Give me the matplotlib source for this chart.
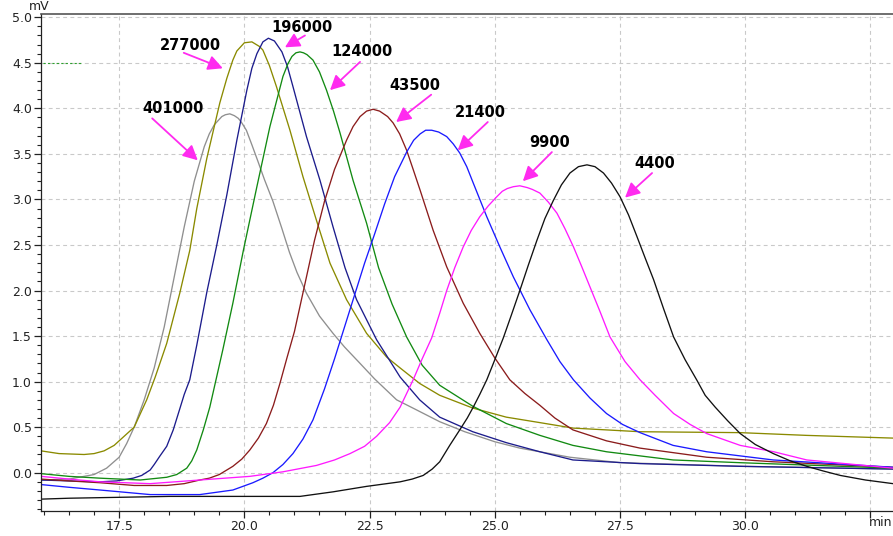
import matplotlib.pyplot as plt
from matplotlib.ticker import MultipleLocator, FormatStrFormatter

# GPC traces (retention time in min, detector signal in mV), one per standard
mw_labels = ["401000", "277000", "196000", "124000", "43500", "21400", "9900", "4400"]
colors = ["#8f8f8f", "#8a8a00", "#1c1c8c", "#128a12", "#8b1c1c", "#1a1aff", "#ff1aff", "#111111"]

t_401000 = [15.94, 16.5, 17.0, 17.25, 17.5, 17.65, 17.8, 18.0, 18.2, 18.4, 18.6, 18.8, 19.0, 19.2,
            19.3, 19.4, 19.55, 19.62, 19.71, 19.8, 19.88, 19.95, 20.04, 20.15, 20.27, 20.4, 20.57,
            20.75, 20.9, 21.05, 21.24, 21.5, 21.77, 22.0, 22.31, 22.6, 23.04, 23.4, 23.9, 24.4,
            25.0, 25.5, 26.0, 26.5, 27.5, 30.0, 32.0, 32.95]
s_401000 = [-0.08, -0.07, -0.02, 0.05, 0.17, 0.32, 0.50, 0.80, 1.15, 1.60, 2.15, 2.70, 3.20, 3.58,
            3.72, 3.82, 3.91, 3.93, 3.94, 3.92, 3.89, 3.84, 3.76, 3.60, 3.42, 3.22, 2.98,
            2.68, 2.42, 2.20, 1.97, 1.72, 1.53, 1.38, 1.20, 1.03, 0.80, 0.70, 0.56, 0.45,
            0.34, 0.27, 0.22, 0.17, 0.11, 0.07, 0.05, 0.04]

t_277000 = [15.94, 16.3, 16.8, 17.0, 17.2, 17.4, 17.52, 17.8, 18.05, 18.22, 18.45, 18.71, 18.91,
            19.05, 19.25, 19.51, 19.65, 19.77, 19.85, 20.0, 20.15, 20.3, 20.37, 20.5, 20.64, 20.91,
            21.17, 21.44, 21.71, 22.04, 22.44, 22.84, 23.11, 23.5, 23.9, 24.56, 25.23, 25.9, 26.56,
            27.9, 29.9, 31.22, 32.95]
s_277000 = [0.24, 0.21, 0.20, 0.21, 0.24, 0.30, 0.36, 0.50, 0.80, 1.05, 1.42, 1.97, 2.44,
            2.90, 3.45, 4.06, 4.33, 4.53, 4.63, 4.72, 4.73, 4.68, 4.64, 4.47, 4.24, 3.76,
            3.25, 2.77, 2.30, 1.90, 1.53, 1.27, 1.15, 0.98, 0.85, 0.71, 0.61, 0.55, 0.49,
            0.45, 0.44, 0.41, 0.38]

t_196000 = [15.94, 16.5, 17.12, 17.45, 17.78, 17.95, 18.12, 18.2, 18.31, 18.45, 18.58, 18.71, 18.8,
            18.91, 19.05, 19.25, 19.45, 19.65, 19.85, 20.05, 20.15, 20.25, 20.37, 20.48, 20.6,
            20.75, 20.86, 20.97, 21.24, 21.51, 21.77, 22.01, 22.24, 22.64, 23.11, 23.5, 23.9,
            24.56, 25.23, 25.9, 26.56, 27.9, 29.9, 32.95]
s_196000 = [-0.08, -0.09, -0.10, -0.09, -0.06, -0.03, 0.03, 0.09, 0.18, 0.29, 0.47, 0.70, 0.86,
            1.02, 1.40, 1.98, 2.50, 3.05, 3.65, 4.20, 4.44, 4.60, 4.73, 4.77, 4.74,
            4.62, 4.46, 4.24, 3.69, 3.21, 2.70, 2.25, 1.90, 1.46, 1.05, 0.80, 0.61,
            0.45, 0.33, 0.23, 0.14, 0.10, 0.07, 0.04]

t_124000 = [15.94, 16.5, 17.12, 17.92, 18.45, 18.65, 18.85, 18.95, 19.05, 19.18, 19.31, 19.57,
            19.77, 19.98, 20.25, 20.51, 20.77, 20.87, 20.95, 21.03, 21.11, 21.18, 21.25, 21.37,
            21.5, 21.64, 21.78, 21.91, 22.17, 22.44, 22.68, 22.95, 23.24, 23.55, 23.9, 24.56,
            25.23, 25.9, 26.56, 27.23, 28.56, 29.9, 32.95]
s_124000 = [-0.01, -0.04, -0.06, -0.08, -0.05, -0.02, 0.05, 0.13, 0.25, 0.47, 0.72, 1.35,
            1.86, 2.44, 3.14, 3.80, 4.35, 4.49, 4.57, 4.61, 4.62, 4.61, 4.59, 4.53,
            4.40, 4.20, 3.97, 3.73, 3.21, 2.74, 2.25, 1.85, 1.49, 1.18, 0.96, 0.73,
            0.54, 0.41, 0.30, 0.23, 0.14, 0.11, 0.05]

t_43500 = [15.94, 16.5, 17.12, 17.8, 18.45, 18.8, 19.11, 19.3, 19.5, 19.77, 19.95, 20.11, 20.28,
           20.44, 20.58, 20.71, 20.85, 21.0, 21.2, 21.4, 21.6, 21.8, 22.04, 22.17, 22.31, 22.44,
           22.57, 22.7, 22.86, 22.97, 23.1, 23.24, 23.37, 23.51, 23.77, 24.04, 24.37, 24.7, 25.0,
           25.3, 25.6, 25.9, 26.2, 26.56, 27.23, 27.9, 29.23, 30.56, 32.95]
s_43500 = [-0.07, -0.09, -0.11, -0.14, -0.14, -0.12, -0.08, -0.06, -0.02, 0.07, 0.15, 0.25, 0.38,
           0.54, 0.74, 0.98, 1.26, 1.55, 2.05, 2.55, 2.98, 3.33, 3.65, 3.80, 3.91, 3.97,
           3.99, 3.97, 3.91, 3.84, 3.72, 3.54, 3.33, 3.10, 2.66, 2.26, 1.86, 1.53, 1.26,
           1.02, 0.87, 0.74, 0.60, 0.47, 0.35, 0.27, 0.17, 0.12, 0.06]

t_21400 = [15.94, 16.5, 17.12, 18.12, 19.11, 19.77, 20.17, 20.37, 20.57, 20.77, 20.97, 21.17, 21.37,
           21.6, 21.8, 22.0, 22.2, 22.4, 22.6, 22.8, 23.0, 23.24, 23.38, 23.51, 23.62, 23.74,
           23.88, 24.04, 24.17, 24.3, 24.44, 24.57, 24.84, 25.1, 25.37, 25.7, 26.04, 26.3, 26.57,
           26.9, 27.23, 27.55, 27.9, 28.56, 29.23, 30.56, 32.95]
s_21400 = [-0.13, -0.16, -0.19, -0.24, -0.24, -0.19, -0.11, -0.06, 0.0, 0.09, 0.21, 0.37, 0.58,
           0.92, 1.25, 1.60, 1.95, 2.30, 2.62, 2.95, 3.25, 3.52, 3.65, 3.72, 3.76, 3.76,
           3.74, 3.69, 3.61, 3.51, 3.36, 3.18, 2.81, 2.48, 2.15, 1.79, 1.46, 1.22, 1.02,
           0.82, 0.65, 0.53, 0.44, 0.30, 0.23, 0.14, 0.06]

t_9900 = [15.94, 16.5, 17.12, 18.12, 19.11, 20.11, 20.77, 21.44, 21.8, 22.11, 22.4, 22.64, 22.9,
          23.11, 23.37, 23.55, 23.74, 23.9, 24.04, 24.2, 24.37, 24.53, 24.7, 24.87, 25.04, 25.15,
          25.25, 25.37, 25.5, 25.65, 25.75, 25.9, 26.07, 26.24, 26.4, 26.57, 26.73, 26.9, 27.1,
          27.3, 27.6, 27.9, 28.2, 28.57, 28.9, 29.23, 29.9, 30.57, 31.23, 32.95]
s_9900 = [-0.04, -0.07, -0.10, -0.12, -0.08, -0.04, 0.01, 0.08, 0.14, 0.21, 0.29, 0.40, 0.55,
          0.72, 1.02, 1.25, 1.48, 1.75, 2.00, 2.25, 2.48, 2.66, 2.81, 2.93, 3.03, 3.09,
          3.12, 3.14, 3.15, 3.13, 3.11, 3.07, 2.97, 2.85, 2.68, 2.48, 2.27, 2.04, 1.77,
          1.49, 1.22, 1.02, 0.85, 0.65, 0.53, 0.43, 0.30, 0.23, 0.14, 0.05]

t_4400 = [15.94, 16.5, 17.5, 18.5, 19.5, 20.5, 21.11, 21.77, 22.44, 23.11, 23.35, 23.57, 23.75,
          23.9, 24.1, 24.3, 24.45, 24.57, 24.7, 24.84, 25.0, 25.17, 25.33, 25.5, 25.67, 25.84,
          26.0, 26.17, 26.33, 26.5, 26.67, 26.84, 27.0, 27.17, 27.33, 27.5, 27.67, 27.84, 28.0,
          28.17, 28.37, 28.57, 28.8, 29.03, 29.2, 29.4, 29.65, 29.9, 30.2, 30.56, 30.9, 31.23,
          31.55, 31.9, 32.4, 32.95]
s_4400 = [-0.29, -0.28, -0.27, -0.26, -0.26, -0.26, -0.26, -0.21, -0.15, -0.10, -0.07, -0.03, 0.04,
          0.12, 0.30, 0.47, 0.60, 0.72, 0.86, 1.02, 1.24, 1.48, 1.73, 2.00, 2.28, 2.55,
          2.79, 2.99, 3.16, 3.29, 3.36, 3.38, 3.36, 3.29, 3.18, 3.03, 2.83, 2.59, 2.36,
          2.12, 1.80, 1.49, 1.24, 1.02, 0.85, 0.72, 0.57, 0.43, 0.31, 0.21, 0.13, 0.07,
          0.02, -0.03, -0.08, -0.12]

times = [t_401000, t_277000, t_196000, t_124000, t_43500, t_21400, t_9900, t_4400]
signals = [s_401000, s_277000, s_196000, s_124000, s_43500, s_21400, s_9900, s_4400]

fig = plt.figure(figsize=(8.93, 5.36), dpi=100)
ax = fig.add_axes([41 / 893, 1 - 510.7 / 536, 1 - 41 / 893, (510.7 - 14) / 536])

for t, s, c in zip(times, signals, colors):
    ax.plot(t, s, color=c, lw=0.95)

# leftover marker trace near the top left
ax.plot([15.97, 16.75], [4.5, 4.5], color="#2ea02e", lw=0.8, ls=(0, (2, 2)))

ax.set_xlim(15.94, 32.95)
ax.set_ylim(-0.417, 5.036)

ax.xaxis.set_major_locator(MultipleLocator(2.5))
ax.xaxis.set_minor_locator(MultipleLocator(0.5))
ax.yaxis.set_major_locator(MultipleLocator(0.5))
ax.yaxis.set_minor_locator(MultipleLocator(0.1))
ax.yaxis.set_major_formatter(FormatStrFormatter("%.1f"))
ax.set_xticks([17.5, 20.0, 22.5, 25.0, 27.5, 30.0, 32.5])
ax.set_xticklabels(["17.5", "20.0", "22.5", "25.0", "27.5", "30.0", ""])

ax.tick_params(which="major", direction="out", length=5, width=0.9, labelsize=9,
               colors="#222222", pad=1.5)
ax.tick_params(which="minor", direction="out", length=3, width=0.8, colors="#222222")

ax.grid(True, which="major", color="#c9c9c9", lw=0.8, ls=(0, (3.5, 3)))
ax.set_axisbelow(True)

ax.spines["right"].set_visible(False)
ax.spines["top"].set_color("#555555")
ax.spines["top"].set_linewidth(1.2)
for side in ["left", "bottom"]:
    ax.spines[side].set_color("#222222")
    ax.spines[side].set_linewidth(0.9)

fig.text(39 / 893, 1 - 7 / 536, "mV", fontsize=9, color="#222222", ha="center", va="center")
fig.text(892 / 893, 1 - 522 / 536, "min", fontsize=9, color="#222222", ha="right", va="center")

# molecular weight labels with pointer arrows
label_xy = [(18.58, 4.00), (18.93, 4.69), (21.15, 4.89), (22.35, 4.62),
            (23.40, 4.25), (24.72, 3.96), (26.10, 3.63), (28.20, 3.40)]
arrow_tail = [(18.16, 3.89), (18.79, 4.61), (21.21, 4.80), (22.31, 4.51),
              (23.73, 4.15), (24.86, 3.85), (26.14, 3.52), (28.14, 3.29)]
arrow_head = [(19.07, 3.43), (19.57, 4.44), (20.81, 4.67), (21.71, 4.20),
              (23.03, 3.85), (24.26, 3.54), (25.56, 3.20), (27.60, 3.02)]

for lab, (tx, ty), tail, head in zip(mw_labels, label_xy, arrow_tail, arrow_head):
    ax.text(tx, ty, lab, fontsize=10.5, fontweight="bold", color="black",
            ha="center", va="center", zorder=5)
    ax.annotate("", xy=head, xytext=tail,
                arrowprops=dict(arrowstyle="-|>,head_length=0.55,head_width=0.28",
                                color="#ff2bef", lw=1.3, mutation_scale=16,
                                shrinkA=0, shrinkB=0),
                zorder=5)

fig.savefig("out.png", dpi=100)
